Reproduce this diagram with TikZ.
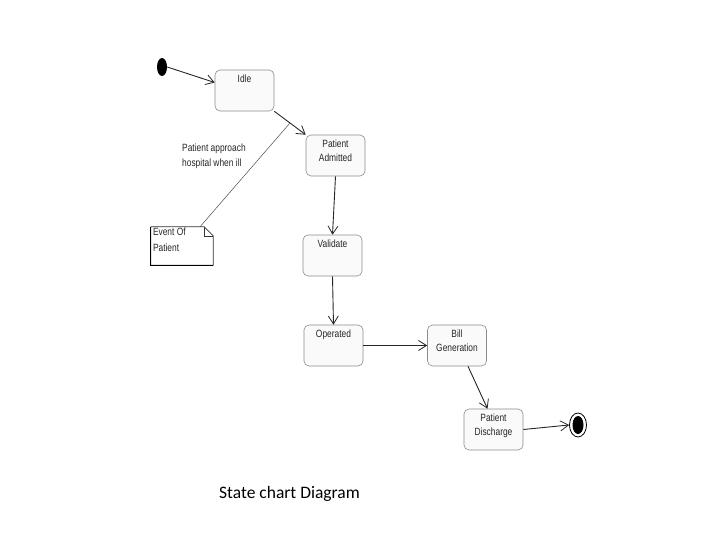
\documentclass[tikz,border=0pt]{standalone}
\usepackage{fontspec}
\setmainfont{Liberation Sans}
\newfontfamily\diagfont[FakeStretch=0.8]{Liberation Sans}
\newfontfamily\capfont{Carlito}
\usetikzlibrary{arrows.meta,shapes.geometric}

\tikzset{
  statebox/.style={draw=black!45, fill=black!2, rounded corners=5pt, minimum width=59pt, minimum height=41pt, line width=0.6pt},
  statetext/.style={anchor=north, inner sep=4.5pt, align=center, text=black!85, font=\diagfont\fontsize{10.5}{14}\selectfont},
  trans/.style={draw=black!85, line width=0.9pt, -{Straight Barb[length=8pt,width=10pt,line width=0.8pt]}},
}

\begin{document}
\begin{tikzpicture}[x=1pt,y=-1pt]
\useasboundingbox (0,0) rectangle (720,540);
\node[ellipse, fill=black, minimum width=10pt, minimum height=18pt, inner sep=0pt] (init) at (162,67) {};
\node[statebox, label={[statetext]north:Idle}] (idle) at (244.5,90.5) {};
\node[statebox, label={[statetext]north:Patient\\Admitted}] (adm) at (335.5,155.5) {};
\node[statebox, label={[statetext]north:Validate}] (val) at (332.5,255.5) {};
\node[statebox, label={[statetext]north:Operated}] (oper) at (333.5,345.5) {};
\node[statebox, label={[statetext]north:Bill\\Generation}] (bill) at (457,345.5) {};
\node[statebox, label={[statetext]north:Patient\\Discharge}] (dis) at (493.5,429.5) {};
\node[ellipse, draw=black, line width=0.8pt, minimum width=17pt, minimum height=24pt, inner sep=0pt] (final) at (578,425) {};
\fill (final.center) ellipse (5.5 and 9);

% transitions
\draw[trans] (init.east) -- (idle.165);
\draw[trans] (idle.south east) -- coordinate[pos=0.5] (hit) (adm.north west);
\draw[trans] (adm.south) -- (val.north);
\draw[trans] (val.south) -- (oper.north);
\draw[trans] (oper.east) -- (bill.west);
\draw[trans] ([xshift=11pt]bill.south) -- ([xshift=-6pt]dis.north);
\draw[trans] (dis.east) -- (final.west);

% note on the first transition
\node[minimum width=62pt, minimum height=38pt, inner sep=0pt] (note) at (182,246) {};
\draw[black!80, line width=0.6pt] (note.south west) -- (note.north west) -- ([xshift=-9pt]note.north east) -- ([yshift=-9pt]note.north east) -- (note.south east) -- cycle;
\draw[black!80, line width=0.6pt] ([xshift=-9pt]note.north east) -- ([xshift=-9pt,yshift=-9pt]note.north east) -- ([yshift=-9pt]note.north east);
\draw[black, line width=1.2pt] (note.north west) -- (note.south west) -- (note.south east);
\node[anchor=north west, inner sep=2pt, align=left, text=black!85, font=\diagfont\fontsize{10.5}{16}\selectfont] (notetext) at ([xshift=0pt,yshift=1pt]note.north west) {Event Of\\Patient};
\draw[black!70, line width=0.5pt] ([xshift=18pt]note.north) -- (hit);
\node[anchor=west, align=left, text=black!85, font=\diagfont\fontsize{10.5}{15}\selectfont, inner sep=0pt] (trig) at (182,156) {Patient approach\\hospital when ill};

\node[font=\capfont\fontsize{17.5}{20}\selectfont] (caption) at (289.5,494) {State chart Diagram};
\end{tikzpicture}
\end{document}
